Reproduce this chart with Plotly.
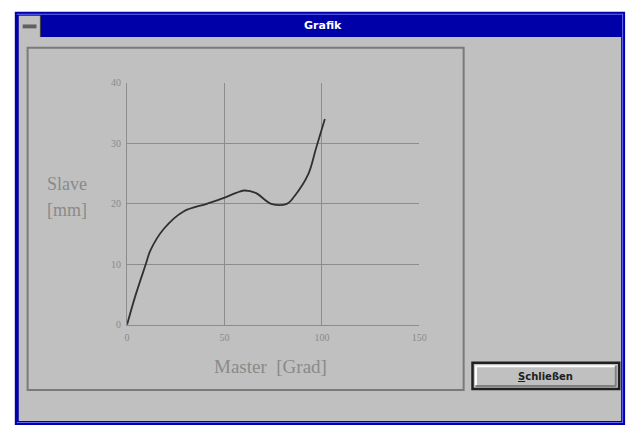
import plotly.graph_objects as go

# ---- data ----
master = [0, 4, 9.6, 12, 18.7, 28.8, 40.9, 49, 56, 60, 66, 74, 82, 86, 93, 97, 101.5]
slave = [0, 4.5, 10, 12.3, 15.8, 18.7, 20.0, 20.9, 21.8, 22.2, 21.8, 20.0, 20.0, 21.3, 24.9, 29.2, 34.0]
x_ticks = [0, 50, 100, 150]
y_ticks = [0, 10, 20, 30, 40]
x_title = "Master  [Grad]"
y_title_lines = ["Slave", "[mm]"]
window_title = "Grafik"
button_label = "<u>S</u>chließen"

W, H = 637, 430
def px(x):
    return x / W
def py(y):
    return 1 - y / H

GRAY = "#c0c0c0"
BLUE = "#0000a8"
TXT = "#8a8a8a"
GRID = "#8c8c8c"

fig = go.Figure()
fig.add_trace(go.Scatter(x=master, y=slave, mode="lines",
                         line=dict(color="#303030", width=1.8, shape="spline", smoothing=1.0),
                         hoverinfo="skip", showlegend=False))

shapes = []
def rect(x0, y0, x1, y1, fill=None, line=None, lw=0, layer="below"):
    d = dict(type="rect", xref="paper", yref="paper",
             x0=px(x0), x1=px(x1), y0=py(y1), y1=py(y0), layer=layer,
             line=dict(width=lw, color=line if line else "rgba(0,0,0,0)"))
    if fill:
        d["fillcolor"] = fill
    shapes.append(d)

def line(x0, y0, x1, y1, color, w=1, layer="below"):
    shapes.append(dict(type="line", xref="paper", yref="paper",
                       x0=px(x0), x1=px(x1), y0=py(y0), y1=py(y1), layer=layer,
                       line=dict(color=color, width=w)))

# window frame
rect(12, 6, 632, 431, fill=BLUE)
line(14, 8.5, 630, 8.5, "#6a6af0", 1)
line(629.5, 8, 629.5, 429, "#6a6af0", 1)
line(14, 428.5, 630, 428.5, "#6a6af0", 1)
rect(16, 32, 628, 427, fill=GRAY)
# system menu box
rect(16, 10, 38, 32, fill=GRAY)
line(38, 10, 38, 32, "#404040", 1)
rect(20, 19, 34, 23, fill="#606060")
# chart panel frame
rect(25, 43, 468, 395, fill=None, line="#7a7a7a", lw=2)
# button
shapes.append(dict(type="rect", xref="paper", yref="paper", layer="below",
                   x0=px(477), x1=px(626), y0=py(394), y1=py(367),
                   fillcolor=GRAY, line=dict(color="#202020", width=2.5)))
line(480, 370.5, 622, 370.5, "#ffffff", 2)
line(480.5, 370, 480.5, 391, "#ffffff", 2)
line(480, 391, 623, 391, "#808080", 2)
line(622.5, 370, 622.5, 391, "#808080", 2)

fig.update_layout(shapes=shapes)

ann = [
    dict(text="<b>" + window_title + "</b>", x=px(325), y=py(20), font=dict(color="white", size=11, family="DejaVu Sans")),
    dict(text=y_title_lines[0], x=px(65), y=py(183), font=dict(color=TXT, size=18, family="Liberation Serif")),
    dict(text=y_title_lines[1], x=px(65), y=py(210), font=dict(color=TXT, size=18, family="Liberation Serif")),
    dict(text=x_title, x=px(272), y=py(371), font=dict(color=TXT, size=19, family="Liberation Serif")),
    dict(text="<b>" + button_label + "</b>", x=px(551), y=py(381), font=dict(color="#202020", size=10, family="DejaVu Sans")),
]
for a in ann:
    a.update(xref="paper", yref="paper", showarrow=False, xanchor="center", yanchor="middle")
fig.update_layout(annotations=ann)

fig.update_layout(
    width=W, height=H,
    margin=dict(l=0, r=0, t=0, b=0),
    paper_bgcolor="white",
    plot_bgcolor="rgba(0,0,0,0)",
    xaxis=dict(domain=[px(126), px(423)], range=[0, 150], tickvals=x_ticks,
               showgrid=True, gridcolor=GRID, gridwidth=1, zeroline=False,
               showline=True, linecolor=GRID, linewidth=1, ticks="",
               ticklabelstandoff=3,
               tickfont=dict(color=TXT, size=10, family="Liberation Serif"),
               fixedrange=True),
    yaxis=dict(domain=[py(328), py(79)], range=[0, 40], tickvals=y_ticks,
               showgrid=True, gridcolor=GRID, gridwidth=1, zeroline=False,
               showline=True, linecolor=GRID, linewidth=1, ticks="",
               ticklabelstandoff=3,
               tickfont=dict(color=TXT, size=10, family="Liberation Serif"),
               fixedrange=True),
)

fig.write_html("out.html", config={"displayModeBar": False},
               post_script="document.body.style.margin='0';document.body.style.overflow='hidden';")
